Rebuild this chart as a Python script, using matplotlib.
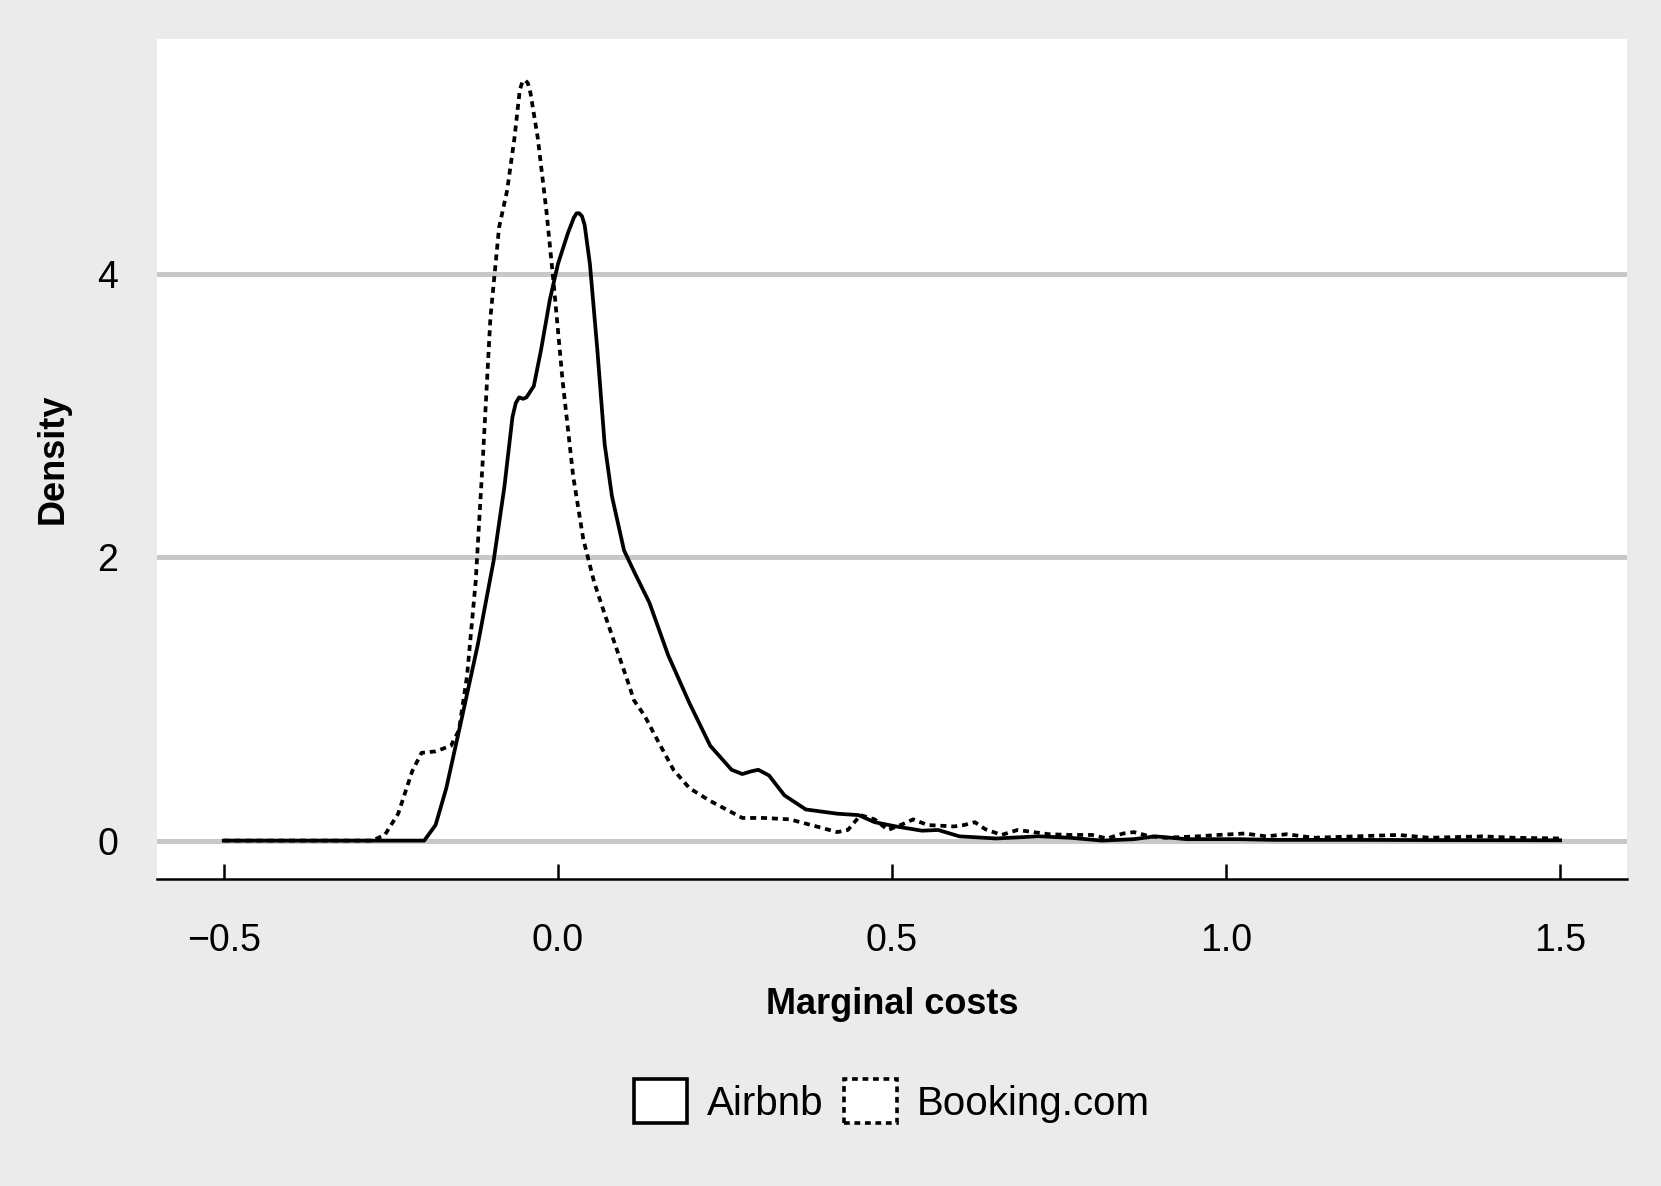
import matplotlib.pyplot as plt
from matplotlib.patches import Patch

plt.rcParams['font.family'] = ['Liberation Sans', 'DejaVu Sans']

# densidad estimada
airbnb_x = [-0.5, -0.3, -0.2, -0.183, -0.167, -0.144, -0.120, -0.096, -0.080, -0.068,
            -0.063, -0.058, -0.052, -0.047, -0.036, -0.025, -0.012, 0.0, 0.015, 0.024,
            0.028, 0.032, 0.036, 0.040, 0.048, 0.059, 0.070, 0.081, 0.099, 0.114,
            0.137, 0.165, 0.197, 0.228, 0.260, 0.276, 0.290, 0.300, 0.316, 0.339,
            0.371, 0.418, 0.450, 0.474, 0.506, 0.545, 0.569, 0.601, 0.656, 0.719,
            0.767, 0.814, 0.862, 0.894, 0.941, 1.02, 1.07, 1.2, 1.35, 1.5]
airbnb_y = [0.0, 0.0, 0.0, 0.11, 0.37, 0.86, 1.38, 1.98, 2.5, 2.99,
            3.09, 3.13, 3.12, 3.13, 3.21, 3.47, 3.82, 4.07, 4.29, 4.40,
            4.43, 4.43, 4.41, 4.35, 4.07, 3.47, 2.80, 2.43, 2.05, 1.90,
            1.68, 1.31, 0.97, 0.67, 0.50, 0.47, 0.49, 0.50, 0.46, 0.32,
            0.22, 0.19, 0.18, 0.13, 0.10, 0.07, 0.075, 0.03, 0.015, 0.03,
            0.02, 0.0, 0.01, 0.03, 0.01, 0.01, 0.005, 0.005, 0.003, 0.002]

booking_x = [-0.5, -0.3, -0.278, -0.259, -0.239, -0.218, -0.204, -0.183, -0.160, -0.148,
             -0.136, -0.123, -0.112, -0.101, -0.088, -0.076, -0.065, -0.057, -0.053, -0.049,
             -0.045, -0.041, -0.030, -0.017, -0.006, 0.007, 0.023, 0.038, 0.054, 0.070,
             0.086, 0.102, 0.114, 0.130, 0.149, 0.173, 0.197, 0.228, 0.276, 0.308,
             0.347, 0.387, 0.418, 0.434, 0.453, 0.474, 0.494, 0.513, 0.532, 0.553,
             0.593, 0.608, 0.624, 0.640, 0.664, 0.688, 0.735, 0.767, 0.799, 0.822,
             0.846, 0.862, 0.886, 0.909, 0.957, 0.989, 1.028, 1.060, 1.091, 1.131,
             1.194, 1.258, 1.305, 1.384, 1.432, 1.5]
booking_y = [0.0, 0.0, 0.0, 0.04, 0.19, 0.49, 0.62, 0.63, 0.67, 0.78,
             1.16, 1.83, 2.72, 3.69, 4.33, 4.59, 4.96, 5.30, 5.36, 5.37,
             5.35, 5.28, 4.96, 4.44, 3.92, 3.25, 2.57, 2.13, 1.83, 1.60,
             1.38, 1.16, 0.99, 0.88, 0.71, 0.50, 0.37, 0.28, 0.16, 0.16,
             0.15, 0.10, 0.06, 0.075, 0.18, 0.15, 0.075, 0.11, 0.15, 0.11,
             0.10, 0.11, 0.13, 0.08, 0.04, 0.075, 0.045, 0.04, 0.04, 0.015,
             0.05, 0.06, 0.03, 0.02, 0.03, 0.04, 0.05, 0.03, 0.045, 0.02,
             0.03, 0.04, 0.02, 0.03, 0.02, 0.015]

x_ticks = [-0.5, 0.0, 0.5, 1.0, 1.5]
x_labels = ['\u22120.5', '0.0', '0.5', '1.0', '1.5']
y_ticks = [0, 2, 4]

fig = plt.figure(figsize=(16.61, 11.86), dpi=100, facecolor='#EBEBEB')
ax = fig.add_axes([0.0945, 0.259, 0.885, 0.708])
ax.set_facecolor('white')

for y in y_ticks:
    ax.axhline(y, color='#C8C8C8', lw=3.6, zorder=1)

ax.plot(airbnb_x, airbnb_y, color='black', lw=2.7, zorder=3, solid_joinstyle='round')
ax.plot(booking_x, booking_y, color='black', lw=2.7, dashes=(1.6, 1.3), zorder=3)

ax.set_xlim(-0.6, 1.6)
ax.set_ylim(-0.27, 5.66)

for s in ['top', 'right', 'left']:
    ax.spines[s].set_visible(False)
ax.spines['bottom'].set_linewidth(1.8)

ax.set_xticks(x_ticks)
ax.set_xticklabels(x_labels)
ax.set_yticks(y_ticks)
ax.tick_params(axis='x', direction='in', length=11, width=1.8, pad=32, labelsize=27)
ax.tick_params(axis='y', length=0, pad=28, labelsize=27)

ax.set_xlabel('Marginal costs', fontsize=26, fontweight='bold', labelpad=20)
ax.set_ylabel('Density', fontsize=26, fontweight='bold', labelpad=19)

handles = [Patch(facecolor='white', edgecolor='black', lw=2.6, label='Airbnb'),
           Patch(facecolor='white', edgecolor='black', lw=2.6, linestyle=(0, (1.6, 1.3)),
                 label='Booking.com')]
fig.legend(handles=handles, loc='center', bbox_to_anchor=(0.537, 0.0714), ncol=2,
           frameon=False, fontsize=29, handlelength=1.31, handleheight=1.31,
           handletextpad=0.5, columnspacing=0.5)

fig.savefig('out.png', dpi=100, facecolor=fig.get_facecolor())
